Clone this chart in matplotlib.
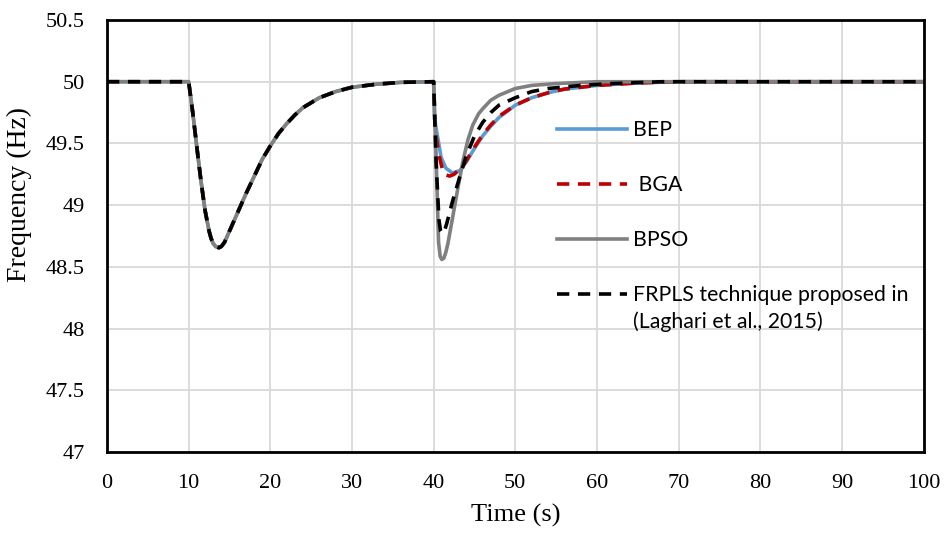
import matplotlib.pyplot as plt

# first disturbance, identical for all methods
t_first = [0, 10, 10.5, 11, 11.5, 12, 12.5, 12.75, 13, 13.3, 13.7, 14.0, 14.4, 15, 16, 17, 18, 19, 20, 21, 22, 23, 24, 26, 28,
           30, 33, 36, 40]
f_first = [50, 50, 49.75, 49.47, 49.20, 48.96, 48.79, 48.73, 48.69, 48.665, 48.655, 48.665, 48.70, 48.79, 48.94, 49.09, 49.23,
           49.37, 49.48, 49.58, 49.66, 49.73, 49.79, 49.87, 49.92, 49.955, 49.98, 49.995, 50]

# second disturbance, per method
t_bep = [40.1, 40.5, 40.9, 41.5, 42.3, 43.2, 44, 45, 46, 47, 48, 50, 52, 54, 56, 60, 65, 70, 100]
f_bep = [49.70, 49.55, 49.39, 49.30, 49.26, 49.28, 49.35, 49.46, 49.56, 49.64, 49.71, 49.81, 49.87, 49.91, 49.94, 49.97, 49.99, 50, 50]

t_bga = [40.2, 40.65, 41.1, 41.5, 41.95, 42.5, 43, 43.6, 44, 45, 46, 47, 48, 50, 52, 54, 56, 60, 65, 70, 100]
f_bga = [49.60, 49.41, 49.28, 49.245, 49.235, 49.25, 49.28, 49.32, 49.36, 49.47, 49.57, 49.65, 49.72, 49.81, 49.87, 49.91, 49.94,
         49.97, 49.99, 50, 50]

t_bpso = [40.3, 40.6, 40.8, 41.0, 41.25, 41.5, 41.75, 42.35, 43, 43.6, 44.2, 44.8, 45.5, 46, 47, 48, 50, 52, 55, 60, 100]
f_bpso = [49.40, 48.70, 48.585, 48.56, 48.57, 48.62, 48.69, 48.91, 49.15, 49.36, 49.53, 49.65, 49.74, 49.78, 49.85, 49.89, 49.945,
          49.97, 49.985, 50, 50]

t_frpls = [40.3, 40.65, 40.85, 41.05, 41.3, 41.6, 42.35, 43.2, 44, 45, 46, 47, 48, 50, 52, 54, 58, 62, 68, 100]
f_frpls = [49.35, 48.88, 48.79, 48.77, 48.785, 48.85, 49.04, 49.23, 49.40, 49.56, 49.67, 49.75, 49.81, 49.87, 49.92, 49.945, 49.97,
           49.985, 50, 50]

labels = ['BEP', ' BGA', 'BPSO', 'FRPLS technique proposed in']
label_extra = '(Laghari et al., 2015)'

fig = plt.figure(figsize=(9.48, 5.33), dpi=100)
ax = fig.add_axes([107 / 948, 81 / 533, 816.6 / 948, 432 / 533])

lw = 2.6
dash = (0, (3.4, 2.4))
ax.plot(t_first + t_bep, f_first + f_bep, color='#5B9BD5', lw=lw, label=labels[0])
ax.plot(t_first + t_bga, f_first + f_bga, color='#C00000', lw=lw, ls=dash, label=labels[1])
ax.plot(t_first + t_bpso, f_first + f_bpso, color='#808080', lw=lw, label=labels[2])
ax.plot(t_first + t_frpls, f_first + f_frpls, color='black', lw=lw, ls=dash, label=labels[3])

ax.set_xlim(0, 100)
ax.set_ylim(47, 50.5)
ax.set_xticks(range(0, 101, 10))
ax.set_yticks([47, 47.5, 48, 48.5, 49, 49.5, 50, 50.5])
ax.set_yticklabels(['47', '47.5', '48', '48.5', '49', '49.5', '50', '50.5'])
ax.grid(True, color='#D9D9D9', lw=1.3)
ax.set_axisbelow(True)
for s in ax.spines.values():
    s.set_color('black')
    s.set_linewidth(2)
ax.tick_params(length=0, pad=16, labelsize=16)
for lab in ax.get_xticklabels() + ax.get_yticklabels():
    lab.set_fontfamily('Liberation Serif')

ax.set_xlabel('Time (s)', family='Liberation Serif', fontsize=19, labelpad=8)
ax.set_ylabel('Frequency (Hz)', family='Liberation Serif', fontsize=20)
ax.yaxis.set_label_coords(-0.092, 0.595)

leg_font = {'family': 'Lato', 'size': 15.3}
leg = ax.legend(loc='upper left', bbox_to_anchor=(0.551, 0.7685), frameon=False,
                prop=leg_font, handlelength=3.3, handletextpad=0.3,
                labelspacing=1.65, borderaxespad=0, borderpad=0)

# second line of the last legend label, set just under the first line
fig.canvas.draw()
bb = leg.get_texts()[3].get_window_extent().transformed(fig.transFigure.inverted())
fig.text(bb.x0, bb.y0 - 0.012, label_extra, fontdict=leg_font, va='top', ha='left')

plt.savefig('out.png', dpi=100)
